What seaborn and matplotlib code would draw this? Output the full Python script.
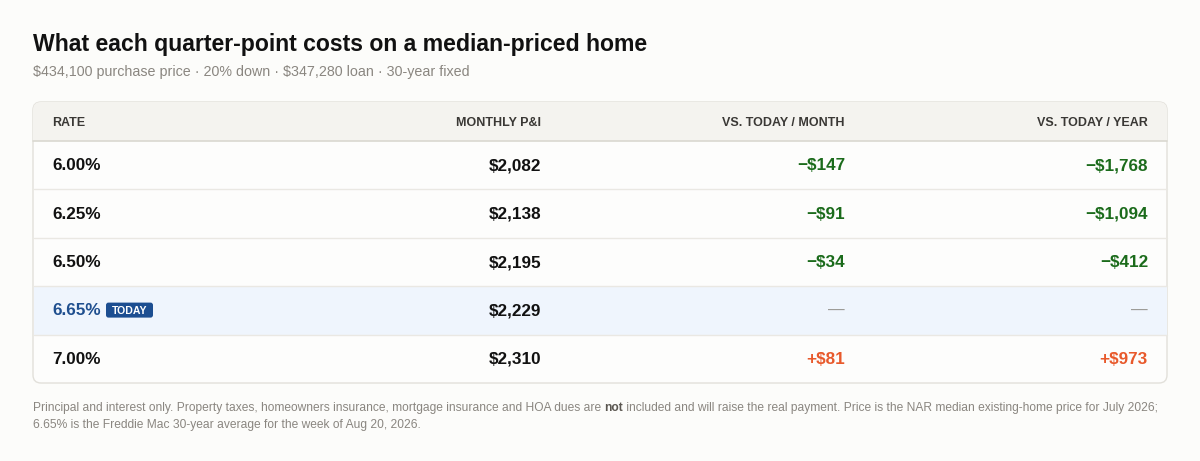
import matplotlib
matplotlib.use("Agg")
import matplotlib.pyplot as plt
import seaborn as sns
from matplotlib.patches import FancyBboxPatch, Rectangle

# данные
rates = ["6.00%", "6.25%", "6.50%", "6.65%", "7.00%"]
monthly = [2082, 2138, 2195, 2229, 2310]
vs_month = [-147, -91, -34, None, 81]
vs_year = [-1768, -1094, -412, None, 973]
today_idx = 3
headers = ["RATE", "MONTHLY P&I", "VS. TODAY / MONTH", "VS. TODAY / YEAR"]

title = "What each quarter-point costs on a median-priced home"
subtitle = "$434,100 purchase price · 20% down · $347,280 loan · 30-year fixed"
note1_a = "Principal and interest only. Property taxes, homeowners insurance, mortgage insurance and HOA dues are "
note1_b = "not"
note1_c = " included and will raise the real payment. Price is the NAR median existing-home price for July 2026;"
note2 = "6.65% is the Freddie Mac 30-year average for the week of Aug 20, 2026."

sns.set_theme(style="white")
plt.rcParams["font.family"] = ["Liberation Sans", "DejaVu Sans"]
plt.rcParams["text.parse_math"] = False

bg = "#FCFCFA"
ink = "#111111"
green = "#1B6B1B"
orange = "#E8592B"
blue = "#1F4F8F"
badge = "#1C4E91"
grey = "#8A8680"


def money(v, signed=False):
    if v is None:
        return "—"
    s = f"${abs(v):,}"
    if signed:
        s = ("\u2212" if v < 0 else "+") + s
    return s


fig = plt.figure(figsize=(12, 4.61), dpi=100, facecolor=bg)
ax = fig.add_axes([0, 0, 1, 1])
ax.set_xlim(0, 1200)
ax.set_ylim(461, 0)
ax.axis("off")

ax.text(33, 44, title, fontsize=16.6, fontweight="bold", color=ink, va="center")
ax.text(33, 72, subtitle, fontsize=10.3, color=grey, va="center")

# --- таблица ---
x0, x1 = 33, 1167
top, head_h, row_h = 102, 39, 48.4
bottom = top + head_h + row_h * len(rates)

box = FancyBboxPatch((x0, top), x1 - x0, bottom - top,
                     boxstyle="round,pad=0,rounding_size=8",
                     fc="#FDFDFC", ec="#E2E0DA", lw=1, zorder=1)
ax.add_patch(box)

hdr = Rectangle((x0, top), x1 - x0, head_h, fc="#F4F3EF", ec="none", zorder=2)
hdr.set_clip_path(box)
ax.add_patch(hdr)
ax.plot([x0, x1], [top + head_h, top + head_h], color="#DAD8D0", lw=1.2, zorder=3)

col_x = [52, 541, 845, 1148]
col_ha = ["left", "right", "right", "right"]
for h, cx, ha in zip(headers, col_x, col_ha):
    ax.text(cx, top + head_h / 2 + 4.0, h, fontsize=9, fontweight="bold",
            color="#3A3835", ha=ha, va="baseline", zorder=4)

for i, r in enumerate(rates):
    rt = top + head_h + i * row_h
    yc = rt + row_h / 2
    yb = yc + 5.0
    if i == today_idx:
        ax.add_patch(Rectangle((x0 + 0.5, rt), x1 - x0 - 1, row_h,
                               fc="#EFF5FD", ec="none", zorder=2))
    if i > 0:
        ax.plot([x0 + 0.5, x1 - 0.5], [rt, rt], color="#EAE8E3", lw=1, zorder=3)

    is_today = i == today_idx
    ax.text(col_x[0], yb, r, fontsize=12.3, fontweight="bold",
            color=blue if is_today else ink, ha="left", va="baseline", zorder=4)
    if is_today:
        ax.add_patch(FancyBboxPatch((106, yc - 7.8), 47, 15,
                                    boxstyle="round,pad=0,rounding_size=2.5",
                                    fc=badge, ec="none", zorder=4))
        ax.text(129.5, yc + 3.4, "TODAY", fontsize=7.6, fontweight="bold",
                color="white", ha="center", va="baseline", zorder=5)

    ax.text(col_x[1], yb, money(monthly[i]), fontsize=12.3, fontweight="bold",
            color=ink, ha="right", va="baseline", zorder=4)

    for v, cx in ((vs_month[i], col_x[2]), (vs_year[i], col_x[3])):
        if v is None:
            ax.text(cx, yc, "—", fontsize=12, color="#9A9894", ha="right",
                    va="center", zorder=4)
        else:
            ax.text(cx, yb, money(v, signed=True), fontsize=12.3, fontweight="bold",
                    color=green if v < 0 else orange, ha="right", va="baseline", zorder=4)

# --- сноска ---
fn = 8.63
renderer = fig.canvas.get_renderer()
inv = ax.transData.inverted()
t = ax.text(33, 408, note1_a, fontsize=fn, color=grey, va="center")
ex = inv.transform(t.get_window_extent(renderer))[1][0]
t = ax.text(ex, 408, note1_b, fontsize=fn, color="#5A5650", fontweight="bold", va="center")
ex = inv.transform(t.get_window_extent(renderer))[1][0]
ax.text(ex, 408, note1_c, fontsize=fn, color=grey, va="center")
ax.text(33, 425, note2, fontsize=fn, color=grey, va="center")

fig.savefig("out.png", dpi=100, facecolor=bg)
